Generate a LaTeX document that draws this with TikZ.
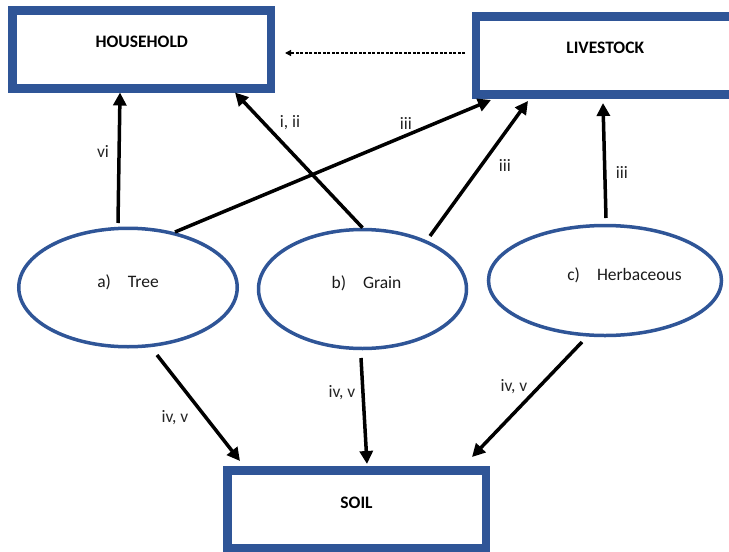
\documentclass[tikz,border=0pt]{standalone}
\usepackage{fontspec}
\setmainfont{Carlito}
\usetikzlibrary{arrows.meta,shapes.geometric}
\definecolor{boxblue}{HTML}{2F5597}
\definecolor{lblgray}{HTML}{262626}
\newcommand{\liftby}[2]{\raisebox{#1}[\height][\depth]{#2}}
\begin{document}
\begin{tikzpicture}[x=1pt,y=1pt,
  bigbox/.style={draw=boxblue, line width=8.5pt, rectangle, minimum width=258.5pt, minimum height=78pt, inner sep=0pt, font=\fontsize{17.5}{21}\selectfont\bfseries, text=black},
  crop/.style={draw=boxblue, line width=3.5pt, ellipse, inner sep=0pt, font=\fontsize{17.5}{21}\selectfont, text=black!90},
  flow/.style={line width=3.5pt, -{Triangle[length=13pt,width=13pt]}},
  weakflow/.style={line width=1.2pt, dash pattern=on 3pt off 1.5pt, -{Triangle[length=6pt,width=6pt]}},
  lbl/.style={font=\fontsize{17.5}{21}\selectfont, text=lblgray, inner sep=0pt}]
\useasboundingbox (0,0) rectangle (729,-552);
\clip (0,0) rectangle (729,-552);

% boxes
\node[bigbox] (household) at (141.75,-49.25) {\liftby{7pt}{HOUSEHOLD}};
\node[bigbox] (livestock) at (605.25,-55.5) {\liftby{7.5pt}{LIVESTOCK}};
\node[bigbox] (soil) at (356.5,-509.5) {\liftby{6.5pt}{SOIL}};

% crops
\node[crop, minimum width=218.5pt, minimum height=118.5pt] (tree) at (128,-287.5) {\liftby{5pt}{a)\hspace{17pt}Tree}};
\node[crop, minimum width=208pt, minimum height=119pt] (grain) at (362.5,-289) {\liftby{6pt}{\hspace*{8pt}b)\hspace{17pt}Grain}};
\node[crop, minimum width=233pt, minimum height=110pt] (herb) at (605,-280.5) {\liftby{5.5pt}{\hspace*{39pt}c)\hspace{17pt}Herbaceous}};

% flows to household
\draw[flow] ([shift={(-10,3.5)}]tree.north) -- ([shift={(-21.75,0)}]household.south);
\draw[flow] (grain.north) -- ([shift={(93.25,0)}]household.south);

% flows to livestock
\draw[flow] ([shift={(47,-5.5)}]tree.north) -- ([shift={(-114.25,-1.25)}]livestock.south);
\draw[flow] ([shift={(67.5,-8.25)}]grain.north) -- ([shift={(-77.25,-2.25)}]livestock.south);
\draw[flow] ([shift={(1,5.75)}]herb.north) -- ([shift={(-2.25,-4.25)}]livestock.south);

% flows to soil
\draw[flow] ([shift={(29,-6.5)}]tree.south) -- ([shift={(-116.5,5.25)}]soil.north);
\draw[flow] ([shift={(-1.5,-7.75)}]grain.south) -- ([shift={(10.5,2.25)}]soil.north);
\draw[flow] ([shift={(-23,-4.75)}]herb.south) -- ([shift={(115.5,9.25)}]soil.north);

% livestock to household
\draw[weakflow] ([shift={(-6.75,2.5)}]livestock.west) -- ([shift={(9.75,-3.75)}]household.east);

% labels
\node[lbl] (l1) at (103,-151) {vi};
\node[lbl] (l2) at (290,-123) {i, ii};
\node[lbl] (l3) at (406,-123) {iii};
\node[lbl] (l4) at (505,-165) {iii};
\node[lbl] (l5) at (622,-172) {iii};
\node[lbl] (l6) at (175,-418) {iv, v};
\node[lbl] (l7) at (342,-393) {iv, v};
\node[lbl] (l8) at (514,-387) {iv, v};
\end{tikzpicture}
\end{document}
